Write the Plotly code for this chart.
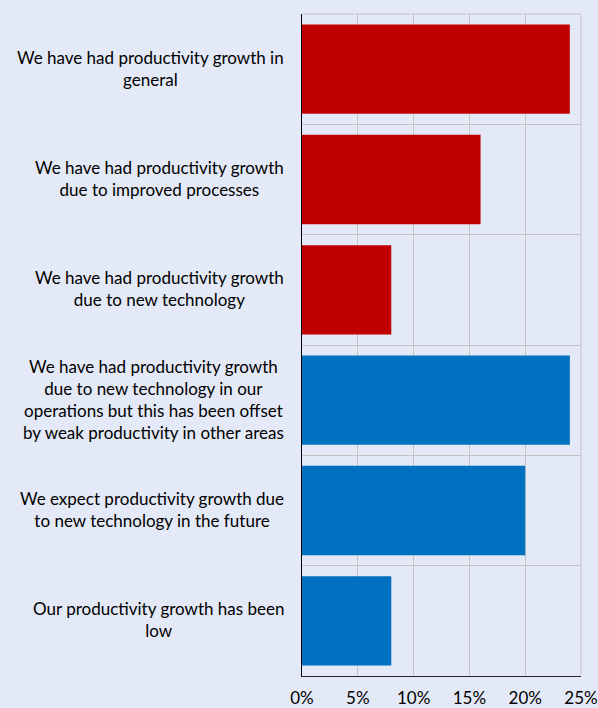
import plotly.graph_objects as go

categories = [
    "We have had productivity growth in<br>general",
    "We have had productivity growth<br>due to improved processes",
    "We have had productivity growth<br>due to new technology",
    "We have had productivity growth<br>due to new technology in our<br>operations but this has been offset<br>by weak productivity in other areas",
    "We expect productivity growth due<br>to new technology in the future",
    "Our productivity growth has been<br>low",
]
values = [0.24, 0.16, 0.08, 0.24, 0.20, 0.08]
colors = ["#C00000", "#C00000", "#C00000", "#0070C0", "#0070C0", "#0070C0"]
x_ticks = [0, 0.05, 0.10, 0.15, 0.20, 0.25]
x_ticktext = ["0%", "5%", "10%", "15%", "20%", "25%"]

BG = "#E4E9F7"
FONT = "Lato"
GRID = "#C4C4C4"

fig = go.Figure(go.Bar(
    x=values, y=categories, orientation="h",
    marker=dict(color=colors, line=dict(width=0)),
))

annotations = []
for c in categories:
    annotations.append(dict(
        x=0, xref="paper", y=c, yref="y", text=c, showarrow=False,
        xanchor="right", yanchor="middle", align="center", xshift=-16,
        yshift=1,
        font=dict(family=FONT, size=17, color="#000000"),
    ))

shapes = [
    dict(type="line", xref="paper", yref="paper", x0=0, x1=1, y0=1, y1=1,
         line=dict(color=GRID, width=1), layer="below"),
    dict(type="line", xref="paper", yref="paper", x0=1, x1=1, y0=0, y1=1,
         line=dict(color=GRID, width=1), layer="below"),
]

fig.update_layout(
    width=598, height=708,
    margin=dict(l=302, r=17, t=14, b=32, autoexpand=False),
    paper_bgcolor=BG, plot_bgcolor=BG,
    bargap=0.19,
    showlegend=False,
    annotations=annotations,
    shapes=shapes,
    xaxis=dict(
        range=[0, 0.25], tickvals=x_ticks, ticktext=x_ticktext,
        showgrid=True, gridcolor=GRID, gridwidth=1,
        zeroline=False, showline=True, linecolor="#262626", linewidth=1,
        ticks="", ticklabelstandoff=7, automargin=False,
        tickfont=dict(family=FONT, size=17, color="#000000"),
        fixedrange=True,
    ),
    yaxis=dict(
        type="category", autorange="reversed", tickson="boundaries",
        showgrid=True, gridcolor=GRID, gridwidth=1,
        showticklabels=False, ticks="", automargin=False,
        showline=True, linecolor="#000000", linewidth=1,
        zeroline=False,
    ),
)

fig.write_html("out.html")
